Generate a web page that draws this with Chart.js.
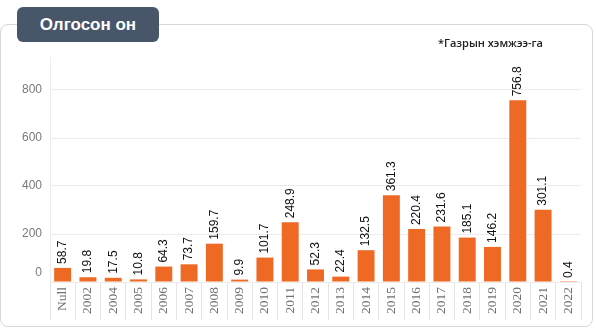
<!DOCTYPE html>
<html>
<head>
<meta charset="utf-8">
<script src="https://cdn.jsdelivr.net/npm/chart.js@4/dist/chart.umd.min.js"></script>
<style>
  html, body { margin: 0; padding: 0; background: #fff; }
  body { width: 596px; height: 328px; position: relative; overflow: hidden; }
  #card { position: absolute; left: 0; top: 24px; border: 1px solid #d3d8de; border-radius: 8px; box-sizing: border-box; width: 593px; height: 303px; }
  #badge { position: absolute; left: 17px; top: 7px; width: 142px; height: 35px; background: #48566a; border-radius: 6px; color: #fff; font: bold 17px "Liberation Sans", Arial, sans-serif; display: flex; align-items: center; justify-content: center; z-index: 3; }
  #note { position: absolute; left: 438px; top: 35px; font: 600 11px "Open Sans", sans-serif; color: #222; z-index: 3; }
  #wrap { position: absolute; left: 0; top: 0; width: 596px; height: 328px; z-index: 2; }
</style>
</head>
<body>
<div id="card"></div>
<div id="badge">Олгосон он</div>
<div id="note">*Газрын хэмжээ-га</div>
<div id="wrap"><canvas id="c" width="596" height="328"></canvas></div>
<script>
const categories = ["Null","2002","2004","2005","2006","2007","2008","2009","2010","2011","2012","2013","2014","2015","2016","2017","2018","2019","2020","2021","2022"];
const areaValues = [58.7,19.8,17.5,10.8,64.3,73.7,159.7,9.9,101.7,248.9,52.3,22.4,132.5,361.3,220.4,231.6,185.1,146.2,756.8,301.1,0.4];
const yTicks = [0,200,400,600,800];

const barColor = '#ee6a24';

const labelPlugin = {
  id: 'labels',
  afterDatasetsDraw(chart) {
    const ctx = chart.ctx;
    const meta = chart.getDatasetMeta(0);
    ctx.save();
    ctx.fillStyle = '#111';
    ctx.font = '12px "Liberation Sans", Arial, sans-serif';
    ctx.textAlign = 'left';
    ctx.textBaseline = 'middle';
    meta.data.forEach((bar, i) => {
      ctx.save();
      ctx.translate(bar.x, bar.y - 4);
      ctx.rotate(-Math.PI / 2);
      ctx.fillText(areaValues[i].toFixed(1), 0, 0);
      ctx.restore();
    });
    const ys = chart.scales.y;
    ctx.fillStyle = '#7a7a7a';
    ctx.textAlign = 'right';
    ctx.textBaseline = 'middle';
    ctx.fillText('0', ys.right - 8, ys.getPixelForValue(0) - 9);
    ctx.restore();
  }
};

new Chart(document.getElementById('c'), {
  type: 'bar',
  data: {
    labels: categories,
    datasets: [{
      data: areaValues,
      backgroundColor: barColor,
      barPercentage: 0.67,
      categoryPercentage: 1.0
    }]
  },
  options: {
    responsive: false,
    animation: false,
    layout: { padding: { left: 0, right: 15, top: 57, bottom: 6 } },
    plugins: { legend: { display: false }, tooltip: { enabled: false } },
    scales: {
      x: {
        afterFit(s) { s.height = 40; },
        border: { display: false },
        grid: { offset: true, drawOnChartArea: false, drawTicks: true, tickLength: 38, color: '#e4e4e4' },
        ticks: {
          autoSkip: false, maxRotation: 90, minRotation: 90, padding: -33,
          color: '#707070', font: { family: '"Liberation Serif", serif', size: 13.5 }
        }
      },
      y: {
        min: 0, max: 937.5,
        afterFit(s) { s.width = 50; },
        afterBuildTicks(s) { s.ticks = yTicks.map(v => ({ value: v })); },
        border: { display: true, color: '#ececec' },
        grid: { drawTicks: false, color: '#ececec' },
        ticks: {
          padding: 8,
          color: (c) => c.tick && c.tick.value === 0 ? 'rgba(0,0,0,0)' : '#7a7a7a',
          font: { family: '"Liberation Sans", Arial, sans-serif', size: 12 }
        }
      }
    }
  },
  plugins: [labelPlugin]
});
</script>
</body>
</html>
